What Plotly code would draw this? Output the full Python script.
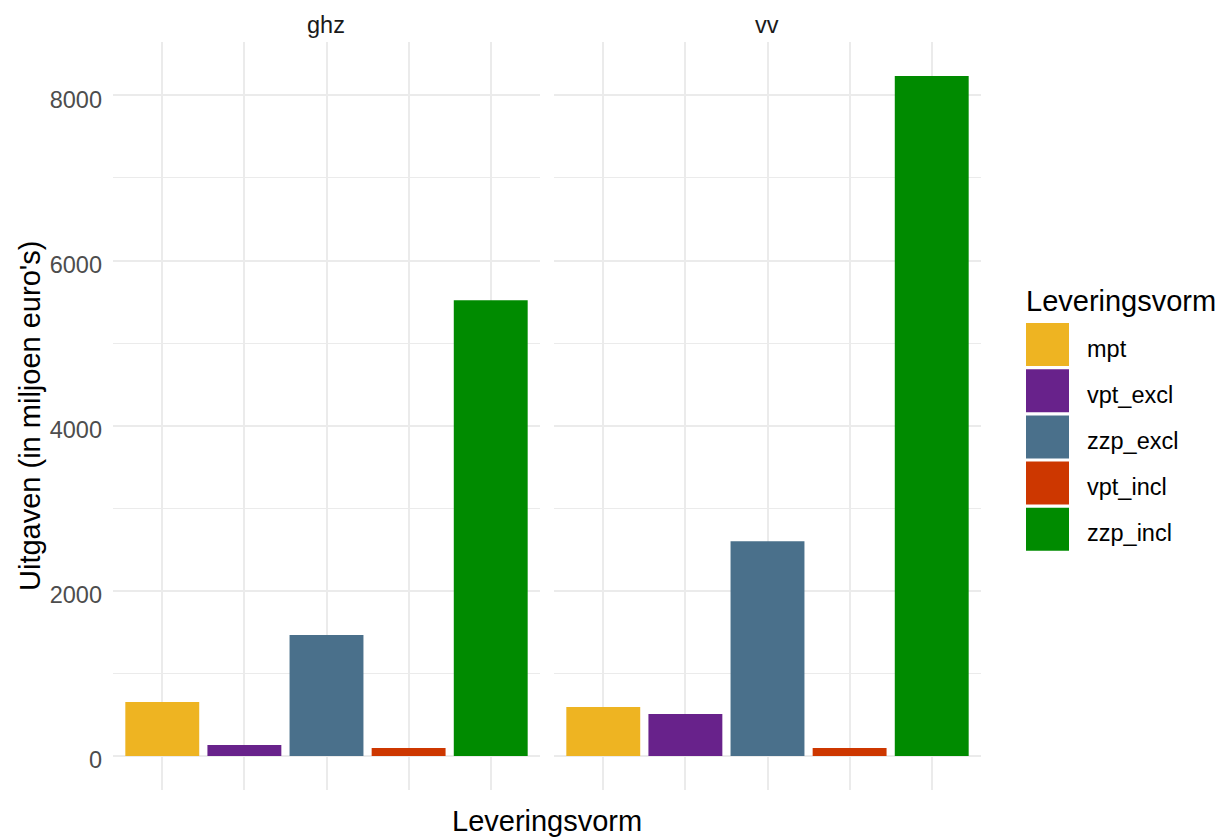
import plotly.graph_objects as go

# ---- data ----
categories = ["mpt", "vpt_excl", "zzp_excl", "vpt_incl", "zzp_incl"]
facets = ["ghz", "vv"]
ghz_values = [655, 133, 1465, 97, 5520]
vv_values = [594, 508, 2602, 97, 8235]
colors = ["#EEB422", "#68228B", "#4A708B", "#CD3700", "#008B00"]

legend_title = "Leveringsvorm"
y_title = "Uitgaven (in miljoen euro's)"
x_title = "Leveringsvorm"

# ---- layout geometry (pixels) ----
W, H = 1222, 839
L, R, T, B = 113, 981, 42, 790
PW, PH = R - L, B - T


def px(x):
    return (x - L) / PW


def py(y):
    return (B - y) / PH


FONT = "Liberation Sans, Arial, Helvetica, sans-serif"
GRID = "#EBEBEB"

ymax = max(ghz_values + vv_values)
yrange = [-0.05 * ymax, 1.05 * ymax]

fig = go.Figure()
for i, (name, vals) in enumerate(zip(facets, [ghz_values, vv_values])):
    xa = "x" if i == 0 else "x2"
    fig.add_trace(go.Bar(
        x=categories, y=vals, width=0.9,
        marker=dict(color=colors, line=dict(width=0)),
        xaxis=xa, yaxis="y" if i == 0 else "y2",
        showlegend=False, name=name,
    ))

xaxis_common = dict(
    type="category", categoryorder="array", categoryarray=categories,
    range=[-0.6, len(categories) - 0.4],
    showgrid=True, gridcolor=GRID, gridwidth=2.2,
    showticklabels=False, ticks="", zeroline=False, showline=False,
)
yaxis_common = dict(
    range=yrange, tickvals=[0, 2000, 4000, 6000, 8000],
    showgrid=True, gridcolor=GRID, gridwidth=2.2,
    minor=dict(dtick=1000, showgrid=True, gridcolor=GRID, gridwidth=1.1),
    zeroline=False, showline=False, ticks="",
)

fig.update_layout(
    width=W, height=H,
    margin=dict(l=L, r=W - R, t=T, b=H - B, autoexpand=False),
    paper_bgcolor="white", plot_bgcolor="white",
    font=dict(family=FONT),
    xaxis=dict(domain=[0, px(540)], **xaxis_common),
    xaxis2=dict(domain=[px(554), 1], anchor="y2", **xaxis_common),
    yaxis=dict(domain=[0, 1], anchor="x", showticklabels=True,
               tickfont=dict(size=23.5, color="#4D4D4D", family=FONT),
               ticklabelstandoff=10, ticklabelshift=4, **yaxis_common),
    yaxis2=dict(domain=[0, 1], anchor="x2", matches="y", showticklabels=False,
                **yaxis_common),
    bargap=0.1,
    showlegend=False,
)

ann = []
# facet strip labels
ann.append(dict(text=facets[0], x=px(326), y=py(25), xref="paper", yref="paper",
                showarrow=False, font=dict(size=23.5, color="#1A1A1A", family=FONT),
                xanchor="center", yanchor="middle"))
ann.append(dict(text=facets[1], x=px(767), y=py(25), xref="paper", yref="paper",
                showarrow=False, font=dict(size=23.5, color="#1A1A1A", family=FONT),
                xanchor="center", yanchor="middle"))
# axis titles
ann.append(dict(text=x_title, x=px(547), y=py(821), xref="paper", yref="paper",
                showarrow=False, font=dict(size=29, color="black", family=FONT),
                xanchor="center", yanchor="middle"))
ann.append(dict(text=y_title, x=px(30), y=py(416), xref="paper", yref="paper",
                showarrow=False, textangle=-90,
                font=dict(size=29, color="black", family=FONT),
                xanchor="center", yanchor="middle"))
# legend title
ann.append(dict(text=legend_title, x=px(1024), y=py(301), xref="paper", yref="paper",
                showarrow=False, font=dict(size=29, color="black", family=FONT),
                xanchor="left", yanchor="middle"))

shapes = []
key_top0, pitch, key = 323, 46.2, 43
for i, (cat, col) in enumerate(zip(categories, colors)):
    top = key_top0 + i * pitch
    shapes.append(dict(type="rect", xref="paper", yref="paper",
                       x0=px(1026), x1=px(1026 + key), y0=py(top + key), y1=py(top),
                       fillcolor=col, line=dict(width=0)))
    ann.append(dict(text=cat, x=px(1085), y=py(top + key / 2 + 4), xref="paper", yref="paper",
                    showarrow=False, font=dict(size=23.5, color="black", family=FONT),
                    xanchor="left", yanchor="middle"))

fig.update_layout(annotations=ann, shapes=shapes)
fig.write_html(
    "out.html",
    config={"displayModeBar": False},
    post_script="document.body.style.margin='0';document.body.style.overflow='hidden';",
)
